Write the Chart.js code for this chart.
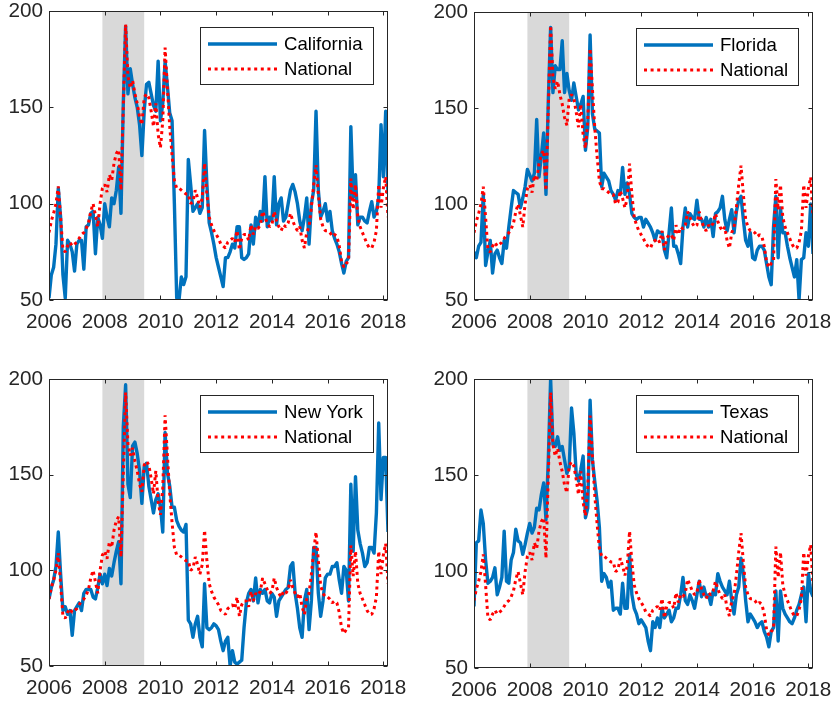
<!DOCTYPE html>
<html><head><meta charset="utf-8">
<script src="https://cdn.jsdelivr.net/npm/chart.js@4/dist/chart.umd.min.js"></script>
<style>
html,body{margin:0;padding:0;background:#fff;}
#wrap{position:relative;width:832px;height:703px;overflow:hidden;}
canvas{position:absolute;}
</style></head><body><div id="wrap">
<canvas id="c0" width="416" height="350" style="left:0;top:0"></canvas>
<canvas id="c1" width="416" height="350" style="left:416px;top:0"></canvas>
<canvas id="c2" width="416" height="353" style="left:0;top:350px"></canvas>
<canvas id="c3" width="416" height="353" style="left:416px;top:350px"></canvas>
</div>
<script>
// ---------- data (monthly, Jan 2006 .. Mar 2018) ----------
const startYear = 2006;
const xTicks = [2006, 2008, 2010, 2012, 2014, 2016, 2018];
const yTicks = [50, 100, 150, 200];
const recession = [2007 + 11/12, 2009 + 5/12];
const seriesNames = ['California', 'Florida', 'New York', 'Texas'];
const nationalName = 'National';

const national = [
  85, 91, 95, 100, 109, 93, 76, 75, 78, 80, 78, 79,
  80, 82, 84, 85, 87, 90, 96, 100, 94, 88, 100, 108,
  110, 106, 115, 112, 121, 126, 128, 107, 150, 193, 166, 160,
  164, 157, 152, 145, 141, 155, 157, 155, 148, 140, 152, 136,
  129, 143, 181, 160, 140, 125, 112, 108, 108, 107, 106, 105,
  105, 100, 101, 107, 103, 98, 103, 121, 105, 93, 89, 86,
  84, 82, 79, 78, 77, 80, 81, 82, 80, 86, 76, 82,
  84, 84, 81, 89, 84, 88, 87, 89, 96, 93, 90, 88,
  89, 96, 91, 88, 86, 89, 88, 90, 95, 91, 88, 86,
  88, 81, 77, 85, 88, 98, 110, 120, 105, 92, 88, 86,
  86, 85, 83, 84, 83, 78, 70, 67, 69, 70, 113, 97,
  110, 93, 88, 85, 82, 79, 77, 77, 80, 86, 110, 98,
  108, 114, 93
];
const california = [
  51, 63, 67, 79, 108, 93, 63, 51, 81, 79, 75, 65,
  79, 81, 81, 66, 88, 89, 95, 96, 74, 93, 89, 82,
  100, 93, 88, 103, 100, 107, 119, 95, 152, 192, 157, 170,
  162, 155, 150, 141, 125, 148, 162, 163, 157, 151, 148, 174,
  143, 152, 174, 161, 147, 143, 100, 51, 50, 62, 58, 62,
  123, 110, 96, 98, 100, 95, 98, 138, 110, 90, 85, 79,
  72, 67, 62, 57, 72, 72, 75, 79, 77, 88, 88, 72,
  71, 72, 74, 89, 79, 93, 88, 96, 91, 114, 88, 93,
  91, 114, 89, 100, 103, 91, 93, 100, 107, 110, 106, 100,
  91, 86, 93, 103, 79, 100, 107, 148, 107, 93, 96, 100,
  91, 96, 86, 82, 79, 75, 69, 64, 70, 72, 140, 103,
  115, 89, 93, 93, 91, 90, 96, 101, 93, 96, 103, 141,
  114, 148, 105
];
const florida = [
  75, 72, 78, 80, 105, 68, 75, 81, 64, 74, 76, 72,
  69, 81, 77, 88, 98, 107, 106, 105, 98, 103, 109, 118,
  115, 112, 116, 144, 114, 125, 137, 105, 154, 192, 158, 172,
  170, 170, 185, 158, 168, 159, 154, 163, 156, 149, 152, 156,
  128, 140, 188, 147, 139, 138, 137, 109, 116, 114, 112, 107,
  105, 102, 107, 105, 119, 105, 111, 105, 95, 93, 92, 93,
  93, 88, 92, 90, 88, 85, 81, 86, 85, 85, 76, 72,
  85, 98, 78, 78, 74, 69, 88, 98, 88, 95, 93, 92,
  102, 92, 92, 88, 93, 88, 92, 83, 95, 96, 98, 104,
  92, 86, 92, 97, 85, 96, 102, 104, 92, 81, 78, 85,
  72, 71, 76, 78, 78, 76, 69, 62, 58, 88, 104, 72,
  98, 85, 85, 78, 72, 67, 62, 71, 50, 71, 72, 85,
  78, 100, 74
];
const newYork = [
  85, 91, 95, 102, 120, 98, 79, 81, 77, 79, 66, 79,
  81, 83, 79, 88, 90, 90, 90, 86, 85, 91, 98, 93,
  98, 92, 101, 97, 104, 110, 115, 93, 175, 197, 145, 138,
  165, 167, 161, 152, 135, 154, 156, 144, 137, 130, 137, 140,
  133, 120, 172, 151, 144, 133, 133, 126, 123, 121, 120, 124,
  74, 72, 65, 72, 76, 65, 60, 93, 70, 69, 70, 72,
  71, 69, 63, 58, 63, 65, 50, 58, 52, 51, 52, 53,
  70, 83, 88, 90, 84, 96, 83, 90, 88, 90, 84, 83,
  88, 86, 76, 84, 86, 88, 90, 91, 102, 104, 88, 80,
  70, 65, 84, 90, 69, 84, 112, 112, 88, 76, 84, 96,
  98, 98, 102, 102, 104, 95, 88, 102, 100, 84, 145, 110,
  149, 121, 114, 109, 102, 104, 112, 112, 109, 130, 177, 137,
  159, 159, 120
];
const texas = [
  82, 115, 116, 132, 125, 106, 94, 95, 97, 102, 88, 92,
  97, 121, 95, 94, 106, 110, 122, 116, 115, 109, 114, 120,
  125, 120, 123, 133, 132, 140, 146, 127, 158, 200, 166, 165,
  170, 163, 165, 158, 151, 154, 185, 172, 151, 147, 153, 160,
  128, 133, 189, 158, 147, 137, 123, 95, 99, 97, 92, 95,
  80, 81, 81, 78, 94, 81, 81, 109, 88, 81, 78, 73,
  75, 73, 71, 64, 59, 74, 71, 76, 71, 81, 76, 78,
  80, 74, 76, 81, 81, 88, 97, 85, 83, 88, 85, 81,
  88, 95, 87, 92, 87, 88, 83, 90, 88, 99, 95, 92,
  90, 88, 95, 85, 78, 88, 92, 107, 99, 85, 74, 78,
  76, 74, 71, 73, 74, 69, 66, 61, 69, 71, 90, 64,
  90, 81, 78, 76, 74, 73, 76, 80, 83, 88, 92, 74,
  99, 90, 87
];
const stateSeries = [california, florida, newYork, texas];

// ---------- style ----------
const FONT = '"Liberation Sans", Arial, Helvetica, sans-serif';
const TICK_SIZE = 20.7, LEGEND_SIZE = 18.6;
const AXIS_COLOR = '#262626';
const BLUE = '#0072bd', RED = '#ff0000';
const TICK_LEN = 4;

const panels = [
  {id: 'c0', W: 416, H: 350, area: {left: 49, right: 388, top: 11, bottom: 300}},
  {id: 'c1', W: 416, H: 350, area: {left: 58, right: 397, top: 12, bottom: 300}},
  {id: 'c2', W: 416, H: 353, area: {left: 49, right: 388, top: 29, bottom: 316}},
  {id: 'c3', W: 416, H: 353, area: {left: 58, right: 397, top: 29, bottom: 318}}
];

function toPoints(vals) {
  return vals.map((v, i) => ({x: startYear + i / 12, y: v}));
}

const framePlugin = {
  id: 'frame',
  beforeDatasetsDraw(chart) {
    const {ctx, chartArea: a, scales: {x}} = chart;
    const x0 = x.getPixelForValue(recession[0]);
    const x1 = x.getPixelForValue(recession[1]);
    ctx.save();
    ctx.fillStyle = '#d9d9d9';
    ctx.fillRect(x0, a.top, x1 - x0, a.bottom - a.top);
    ctx.restore();
  },
  afterDatasetsDraw(chart) {
    const {ctx, chartArea: a, scales: {x, y}} = chart;
    ctx.save();
    ctx.strokeStyle = AXIS_COLOR;
    ctx.lineWidth = 1;
    const L = Math.round(a.left) + 0.5, R = Math.round(a.right) - 0.5;
    const T = Math.round(a.top) + 0.5, B = Math.round(a.bottom) - 0.5;
    ctx.strokeRect(L, T, R - L, B - T);
    ctx.beginPath();
    xTicks.forEach(v => {
      const px = Math.round(x.getPixelForValue(v)) + 0.5;
      ctx.moveTo(px, B); ctx.lineTo(px, B - TICK_LEN);
      ctx.moveTo(px, T); ctx.lineTo(px, T + TICK_LEN);
    });
    yTicks.forEach(v => {
      const py = Math.round(y.getPixelForValue(v)) + 0.5;
      ctx.moveTo(L, py); ctx.lineTo(L + TICK_LEN, py);
      ctx.moveTo(R, py); ctx.lineTo(R - TICK_LEN, py);
    });
    ctx.stroke();

    // legend box (state first, then national)
    const ds = chart.data.datasets;
    const items = [ds[1], ds[0]];
    ctx.font = LEGEND_SIZE + 'px ' + FONT;
    const maxW = Math.max(...items.map(d => ctx.measureText(d.label).width));
    const bw = Math.round(8 + 69 + 7 + maxW + 10), bh = 57;
    const bx = Math.round(a.right) - 15 - bw, by = Math.round(a.top) + 16;
    ctx.fillStyle = '#ffffff';
    ctx.fillRect(bx, by, bw, bh);
    ctx.strokeStyle = AXIS_COLOR;
    ctx.lineWidth = 1;
    ctx.strokeRect(bx + 0.5, by + 0.5, bw, bh);
    const rows = [by + 17, by + 42];
    items.forEach((d, k) => {
      ctx.save();
      ctx.strokeStyle = d.borderColor;
      ctx.lineWidth = d.borderWidth;
      ctx.lineCap = 'butt';
      ctx.setLineDash(d.borderDash || []);
      ctx.beginPath();
      ctx.moveTo(bx + 8, rows[k]);
      ctx.lineTo(bx + 77, rows[k]);
      ctx.stroke();
      ctx.restore();
      ctx.fillStyle = '#000000';
      ctx.textBaseline = 'middle';
      ctx.textAlign = 'left';
      ctx.fillText(d.label, bx + 84, rows[k] + 1);
    });
    ctx.restore();
  }
};

function makeChart(p, name, vals) {
  const a = p.area;
  return new Chart(document.getElementById(p.id), {
    type: 'line',
    data: {
      datasets: [
        {label: nationalName, data: toPoints(national), borderColor: RED, borderWidth: 3,
         borderDash: [3, 3.6], borderCapStyle: 'butt', borderJoinStyle: 'bevel',
         pointRadius: 0, tension: 0, fill: false, clip: 0},
        {label: name, data: toPoints(vals), borderColor: BLUE, borderWidth: 3.4,
         pointRadius: 0, tension: 0, fill: false, clip: 0, borderJoinStyle: 'round'}
      ]
    },
    options: {
      responsive: false, animation: false, devicePixelRatio: 1,
      layout: {padding: {left: 0, right: p.W - a.right, top: a.top, bottom: 0}},
      plugins: {legend: {display: false}, tooltip: {enabled: false}},
      scales: {
        x: {
          type: 'linear', min: startYear, max: 2018 + 2/12,
          afterBuildTicks: s => { s.ticks = xTicks.map(v => ({value: v})); },
          afterFit: s => { s.height = p.H - a.bottom; s.paddingLeft = 0; s.paddingRight = 0; },
          grid: {display: false, drawTicks: false},
          border: {display: false},
          ticks: {callback: v => String(v), autoSkip: false, maxRotation: 0, minRotation: 0,
                  padding: 10, color: AXIS_COLOR, font: {family: FONT, size: TICK_SIZE}}
        },
        y: {
          min: 50, max: 200,
          afterBuildTicks: s => { s.ticks = yTicks.map(v => ({value: v})); },
          afterFit: s => { s.width = a.left; s.paddingTop = 0; s.paddingBottom = 0; },
          grid: {display: false, drawTicks: false},
          border: {display: false},
          ticks: {callback: v => String(v), padding: 6, color: AXIS_COLOR,
                  font: {family: FONT, size: TICK_SIZE}}
        }
      }
    },
    plugins: [framePlugin]
  });
}

panels.forEach((p, k) => makeChart(p, seriesNames[k], stateSeries[k]));
</script>
</body></html>
